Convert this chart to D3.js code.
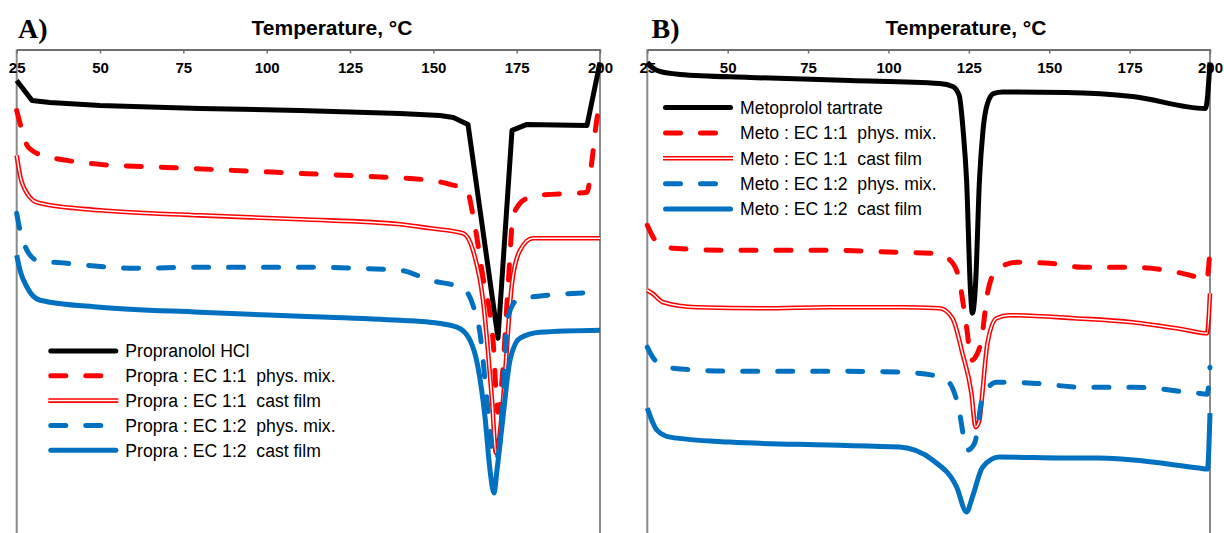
<!DOCTYPE html>
<html>
<head>
<meta charset="utf-8">
<script src="https://cdn.jsdelivr.net/npm/d3@7"></script>
<style>
  html, body { margin: 0; padding: 0; background: #fff; }
  svg { display: block; }
  text { font-family: Arial, "Liberation Sans", Helvetica, sans-serif; }
</style>
</head>
<body>
<svg id="chart" width="1224" height="533"></svg>
<script>
// ---------- DATA (temperature °C, heat flow in arbitrary units, endo down) ----------
const tickValues = [25, 50, 75, 100, 125, 150, 175, 200];
const axisTitle = "Temperature, °C";

// Panel A : Propranolol
const propraHCl = [[25,45.3],[29.6,43.3],[35,43.1],[50,42.8],[80,42.5],[110,42.3],[140,42.0],[152,41.8],[156,41.6],[160.4,40.9],[169.4,19.5],[173.6,40.3],[178.1,40.9],[196.1,40.8],[200,47.1]];
const propraEC11phys = [[25,42.3],[26.6,40.3],[28.1,38.8],[29.6,38.3],[31.1,38.0],[40.1,37.3],[50,36.9],[70.1,36.6],[90,36.3],[110,36.0],[130.1,35.7],[149,35.3],[155,34.9],[160.1,34.3],[161.9,31.8],[164.9,25.6],[167.9,19.3],[169.4,12.1],[170.6,15.3],[172.4,24.6],[173.9,31.6],[176,33.0],[178.1,33.5],[182,33.8],[196.1,34.1],[197.6,37.3],[198.8,40.8],[200,43.3]];
const propraEC11cast = [[25,37.8],[26,35.8],[28.1,34.0],[29.9,33.3],[32,33.0],[50,32.3],[80,31.8],[110,31.4],[140,30.9],[149,30.5],[158.9,30.0],[161.9,28.3],[164.9,23.3],[167.6,13.3],[168.8,8.0],[169.7,9.3],[170.9,13.3],[173.6,25.0],[176,28.3],[179.9,29.5],[200,29.5]];
const propraEC12phys = [[25,32.0],[26,30.3],[28.1,28.3],[31.1,27.3],[40.1,27.0],[60,26.5],[80,26.6],[110,26.6],[140,26.3],[149,25.3],[158.9,24.5],[161.9,22.8],[164,20.0],[166.1,13.3],[168.2,7.3],[169.4,7.8],[170.6,11.6],[172.4,21.6],[175.1,23.3],[179,23.6],[200,24.1]];
const propraEC12cast = [[25,27.8],[26,26.3],[28.1,24.6],[32,23.3],[50,22.6],[80,22.1],[110,21.7],[140,21.3],[149,21.1],[157.1,20.6],[161,19.3],[163.4,16.6],[165.5,11.6],[167,6.3],[168.2,4.0],[169.1,6.3],[170.9,11.6],[173,17.3],[176,19.5],[182,20.1],[200,20.3]];

// Panel B : Metoprolol
const metoTartrate = [[25,47.1],[26.5,46.6],[28.9,46.2],[35.2,45.9],[56.9,45.6],[88,45.3],[115.9,45.0],[120,44.7],[122,43.8],[123.3,40],[124.3,35.3],[125.5,24.3],[126.1,22.0],[127.1,25.0],[128.3,35.3],[129.4,40.3],[130.8,43.0],[132.8,44.0],[135.5,44.15],[155.3,44.1],[175.9,43.7],[198.6,42.5],[200,47.1]];
const metoEC11phys = [[25,30.8],[26.5,29.8],[28,29.1],[33,28.5],[50.7,28.3],[81.7,28.3],[103.5,28.1],[113.7,28.0],[118.4,27.5],[121.5,26.0],[124.3,20.6],[125.8,17.3],[127.4,17.8],[128.9,19.3],[130.8,24.0],[133.6,26.3],[139.8,27.1],[150.1,27.0],[160.3,26.6],[175.9,26.6],[186.4,26.3],[196,25.6],[198.9,25.3],[200,28.3]];
const metoEC11cast = [[25,24.3],[26.5,24.0],[29.9,23.1],[40.4,22.6],[60.9,22.5],[81.7,22.6],[103.5,22.6],[115.9,22.5],[119.9,21.5],[123,18.0],[125.8,14.0],[127.1,10.6],[128.3,11.3],[128.9,13.0],[130.8,19.0],[133.6,21.5],[137.6,21.8],[157.8,21.5],[175.9,21.1],[191.4,20.4],[199.1,20.0],[200,24.0]];
const metoEC12phys = [[25,18.6],[27.4,17.3],[33,16.5],[50.7,16.2],[81.7,16.2],[103.5,16.1],[113.7,15.8],[119,15.0],[121.5,13.0],[124.6,8.3],[126.8,9.0],[129.3,13.6],[133.6,15.1],[144.8,15.0],[160.3,14.6],[175.9,14.6],[195.8,14.0],[199.1,13.9],[200,16.6]];
const metoEC12cast = [[25,12.5],[28,10.3],[32.1,9.6],[50.7,9.1],[81.7,8.8],[103.5,8.6],[113.7,7.3],[121.2,4.6],[124.3,2.1],[126.1,3.6],[129.3,6.6],[134.5,7.6],[155.3,7.5],[165.6,7.5],[196.6,6.5],[199.2,6.4],[200,12.0]];

const legendA = ["Propranolol HCl", "Propra : EC 1:1  phys. mix.", "Propra : EC 1:1  cast film", "Propra : EC 1:2  phys. mix.", "Propra : EC 1:2  cast film"];
const legendB = ["Metoprolol tartrate", "Meto : EC 1:1  phys. mix.", "Meto : EC 1:1  cast film", "Meto : EC 1:2  phys. mix.", "Meto : EC 1:2  cast film"];

// ---------- STYLES ----------
const RED = "#ff0000", BLUE = "#0070c0", BLACK = "#000000";
const styles = [
  {type: "solid", color: BLACK},
  {type: "dash", color: RED},
  {type: "double", color: RED},
  {type: "dash", color: BLUE},
  {type: "solid", color: BLUE}
];

const svg = d3.select("#chart");
svg.append("rect").attr("width", 1224).attr("height", 533).attr("fill", "#fff");

function drawPanel(cfg) {
  const x = d3.scaleLinear().domain([25, 200]).range([cfg.left, cfg.right]);
  const y = d3.scaleLinear().domain([0, 48.4]).range([533, 49.5]);
  const g = svg.append("g");

  // side borders
  g.append("line").attr("x1", cfg.left).attr("x2", cfg.left).attr("y1", 49.5).attr("y2", 533)
    .attr("stroke", "#8a8a8a").attr("stroke-width", 2);
  g.append("line").attr("x1", cfg.right).attr("x2", cfg.right).attr("y1", 49.5).attr("y2", 533)
    .attr("stroke", "#8a8a8a").attr("stroke-width", 2);

  // curves
  cfg.series.forEach((data, i) => {
    const st = styles[i];
    const linear = cfg.linearFirst && i === 0;
    const line = d3.line().x(d => x(d[0])).y(d => y(d[1]))
      .curve(linear ? d3.curveLinear : d3.curveMonotoneX);
    const p = g.append("path").datum(data).attr("d", line).attr("fill", "none")
      .attr("stroke", st.color).attr("stroke-linejoin", "round");
    if (st.type === "solid") {
      p.attr("stroke-width", 5);
    } else if (st.type === "dash") {
      p.attr("stroke-width", 5).attr("stroke-dasharray", "15,20").attr("stroke-linecap", "round");
    } else {
      p.attr("stroke-width", 4.6);
      g.append("path").datum(data).attr("d", line).attr("fill", "none")
        .attr("stroke", "#fff").attr("stroke-width", 1.5).attr("stroke-linejoin", "round");
    }
  });

  // top axis
  const axis = d3.axisBottom(x).tickValues(tickValues).tickSizeInner(4).tickSizeOuter(0).tickPadding(9);
  const ag = g.append("g").attr("transform", `translate(0,49.5)`).call(axis);
  ag.select(".domain").attr("stroke", "#6f6f6f").attr("stroke-width", 2);
  ag.selectAll(".tick line").attr("stroke", "#6f6f6f").attr("stroke-width", 1.5);
  ag.selectAll(".tick text").attr("fill", "#000")
    .style("font-family", "Arial, 'Liberation Sans', sans-serif")
    .style("font-size", "15px").style("font-weight", "bold");

  // title
  g.append("text").attr("x", cfg.titleX).attr("y", 35).attr("text-anchor", "middle")
    .style("font-size", "21px").style("font-weight", "bold").text(axisTitle);
  // panel label
  g.append("text").attr("x", cfg.labelX).attr("y", 38)
    .style("font-family", "'Liberation Serif', 'Times New Roman', serif")
    .style("font-size", "28px").style("font-weight", "bold").text(cfg.label);

  // legend
  cfg.legend.forEach((name, i) => {
    const st = styles[i];
    const ly = cfg.legY + i * cfg.legStep;
    const l = g.append("line").attr("x1", cfg.legX).attr("x2", cfg.legX + 70)
      .attr("y1", ly).attr("y2", ly).attr("stroke", st.color);
    if (st.type === "solid") {
      l.attr("x1", cfg.legX + 2.5).attr("x2", cfg.legX + 67.5)
        .attr("stroke-width", 5).attr("stroke-linecap", "round");
    } else if (st.type === "dash") {
      l.attr("x1", cfg.legX + 2.5).attr("x2", cfg.legX + 67.5)
        .attr("stroke-width", 5).attr("stroke-dasharray", "15,20").attr("stroke-linecap", "round");
    } else {
      l.attr("stroke-width", 4.6);
      g.append("line").attr("x1", cfg.legX).attr("x2", cfg.legX + 70)
        .attr("y1", ly).attr("y2", ly).attr("stroke", "#fff").attr("stroke-width", 1.5);
    }
    g.append("text").attr("x", cfg.legX + 77).attr("y", ly + 6.3)
      .style("font-size", "17.6px").style("white-space", "pre").attr("fill", "#000").text(name);
  });
}

drawPanel({
  left: 16.7, right: 600, titleX: 332, labelX: 18, label: "A)", linearFirst: true,
  series: [propraHCl, propraEC11phys, propraEC11cast, propraEC12phys, propraEC12cast],
  legend: legendA, legX: 48.3, legY: 351, legStep: 24.8
});
drawPanel({
  left: 647.3, right: 1210, titleX: 966, labelX: 651.5, label: "B)", linearFirst: false,
  series: [metoTartrate, metoEC11phys, metoEC11cast, metoEC12phys, metoEC12cast],
  legend: legendB, legX: 663, legY: 107.5, legStep: 25.4
});
</script>
</body>
</html>
